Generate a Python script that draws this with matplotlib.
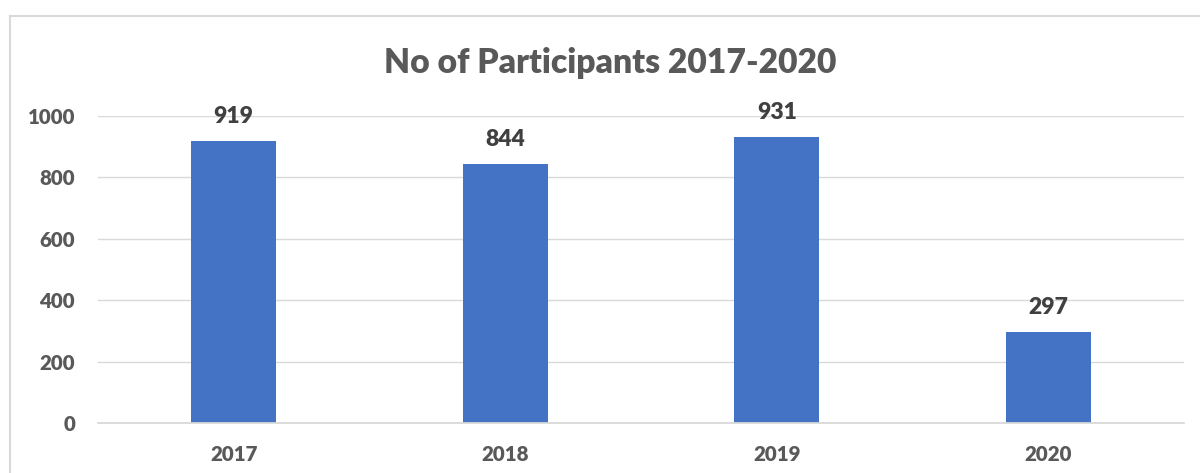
import matplotlib
matplotlib.use("Agg")
import matplotlib.pyplot as plt
from matplotlib.lines import Line2D

years = ["2017", "2018", "2019", "2020"]
participants = [919, 844, 931, 297]
y_ticks = [0, 200, 400, 600, 800, 1000]

W, H = 1200, 473
fig = plt.figure(figsize=(W / 100, H / 100), dpi=100)
fig.patch.set_facecolor("white")

# plot area in pixel coordinates
left, right, top, bottom = 98, 1184, 116, 423
ax = fig.add_axes([left / W, 1 - bottom / H, (right - left) / W, (bottom - top) / H])

font = "Lato"
weight = "heavy"
text_color = "#595959"
grid_color = "#d9d9d9"

x = range(len(years))
ax.bar(x, participants, width=0.313, color="#4472C4", zorder=3)
ax.set_xlim(-0.5, len(years) - 0.5)
ax.set_ylim(0, 1000)
ax.set_yticks(y_ticks)
ax.set_xticks(list(x))
ax.set_xticklabels(years)

for s in ["top", "right", "left"]:
    ax.spines[s].set_visible(False)
ax.spines["bottom"].set_color(grid_color)
ax.spines["bottom"].set_linewidth(1.3)
ax.spines["bottom"].set_zorder(4)
ax.yaxis.grid(True, color=grid_color, linewidth=1.0, zorder=0)
ax.tick_params(axis="both", length=0, colors=text_color)
ax.tick_params(axis="y", pad=16.5)
ax.tick_params(axis="x", pad=16)
for lab in ax.get_xticklabels() + ax.get_yticklabels():
    lab.set_fontfamily(font)
    lab.set_fontweight(weight)
    lab.set_fontsize(14.75)
    lab.set_color(text_color)

for xi, v in zip(x, participants):
    ax.annotate(str(v), (xi, v), xytext=(0, 10), textcoords="offset points",
                ha="center", va="bottom", fontsize=16.5, fontweight=weight,
                fontfamily=font, color="#404040")

fig.text(610 / W, 1 - 63 / H, "No of Participants 2017-2020", ha="center", va="center",
         fontsize=24.2, fontweight=weight, fontfamily=font, color=text_color)

# chart frame (top and left edges)
fig.add_artist(Line2D([10 / W, 1.0], [1 - 16.5 / H, 1 - 16.5 / H], color=grid_color, linewidth=1.5))
fig.add_artist(Line2D([10 / W, 10 / W], [1 - 16.5 / H, 0.0], color=grid_color, linewidth=1.5))

fig.savefig("out.png", dpi=100)
